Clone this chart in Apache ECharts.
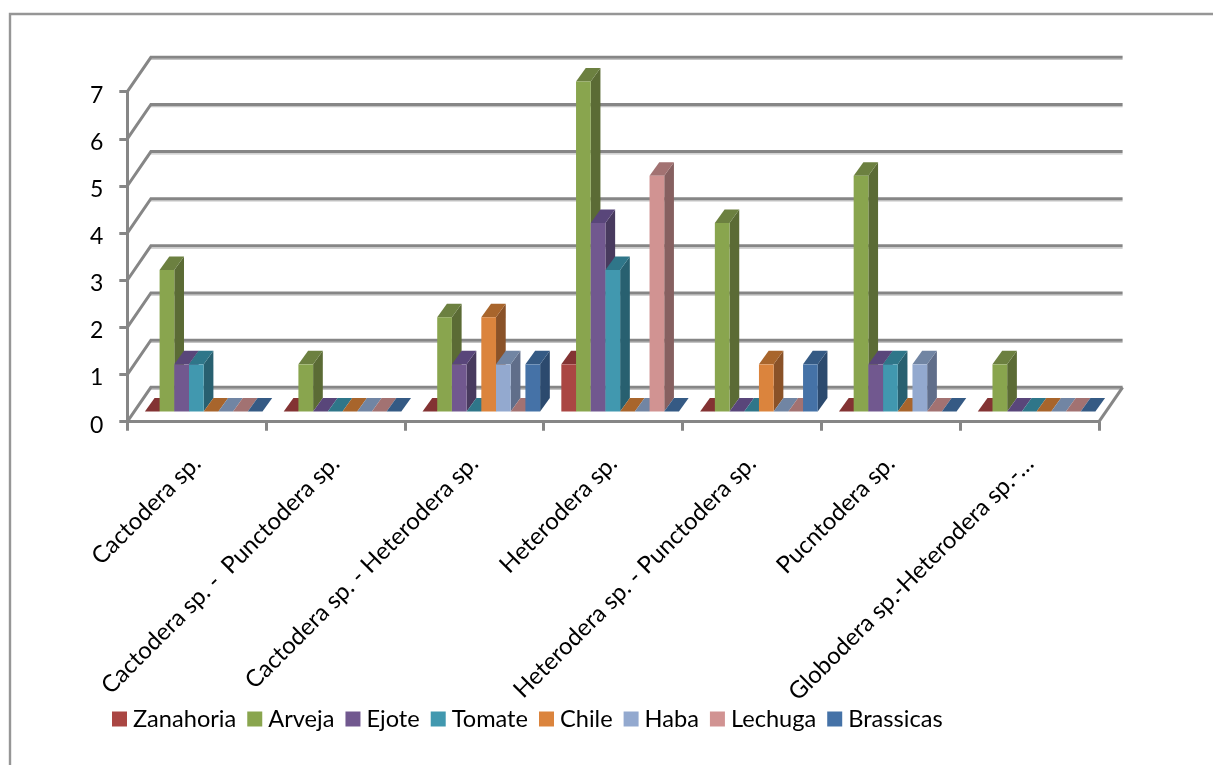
<!DOCTYPE html>
<html>
<head>
<meta charset="utf-8">
<style>html,body{margin:0;padding:0;background:#fff}#chart{width:1213px;height:765px}</style>
<script src="https://cdn.jsdelivr.net/npm/echarts@6/dist/echarts.min.js"></script>
</head>
<body>
<div id="chart"></div>
<script>
// Nematode genera found per crop
const categories = [
  'Cactodera sp.',
  'Cactodera sp. -  Punctodera sp.',
  'Cactodera sp. - Heterodera sp.',
  'Heterodera sp.',
  'Heterodera sp. - Punctodera sp.',
  'Pucntodera sp.',
  'Globodera sp.-Heterodera sp.-…'
];
const yTicks = [0, 1, 2, 3, 4, 5, 6, 7];
const seriesNames = ['Zanahoria', 'Arveja', 'Ejote', 'Tomate', 'Chile', 'Haba', 'Lechuga', 'Brassicas'];
const zanahoria = [0, 0, 0, 1, 0, 0, 0];
const arveja    = [3, 1, 2, 7, 4, 5, 1];
const ejote     = [1, 0, 1, 4, 0, 1, 0];
const tomate    = [1, 0, 0, 3, 0, 1, 0];
const chile     = [0, 0, 2, 0, 1, 0, 0];
const haba      = [0, 0, 1, 0, 0, 1, 0];
const lechuga   = [0, 0, 0, 5, 0, 0, 0];
const brassicas = [0, 0, 1, 0, 1, 0, 0];
const seriesValues = [zanahoria, arveja, ejote, tomate, chile, haba, lechuga, brassicas];

// Shades for the three visible faces of each column
const frontColors = ['#AA4643', '#89A54E', '#71588F', '#4198AF', '#DB843D', '#93A9CF', '#D19392', '#4572A7'];
const topColors   = ['#833333', '#6C8040', '#59467A', '#2F7689', '#A8652C', '#7185A3', '#A27272', '#355A84'];
const sideColors  = ['#6E2B2B', '#5B6B35', '#483A5E', '#286070', '#8A5228', '#606E8A', '#866060', '#2C4A6E'];

// Oblique projection of the box: wall depth, column depth, column inset from the front edge
const WALL_DX = 23.6, WALL_DY = 34.4;
const BAR_DX = 9.7, BAR_DY = 13.5;
const INSET_DX = 7, INSET_DY = 10.2;
const BAR_RATIO = 0.1059, GAP_RATIO = 0.0763;
const GRID_COLOR = '#868686';
const LINE_W = 3;

function line(points, color, width) {
  return { type: 'polyline', shape: { points }, style: { stroke: color, lineWidth: width, fill: 'none' } };
}

// Back wall gridlines, their slanted side-wall returns and the floor's right edge
function renderWall(params, api) {
  const cs = params.coordSys;
  const y = api.coord([0, api.value(1)])[1];
  const left = cs.x, right = cs.x + cs.width;
  const kids = [
    line([[left + WALL_DX, y - WALL_DY + 2.2], [right + WALL_DX, y - WALL_DY + 2.2]], '#c4c4c4', 1.2),
    line([[left, y], [left + WALL_DX, y - WALL_DY], [right + WALL_DX, y - WALL_DY]], GRID_COLOR, LINE_W)
  ];
  if (api.value(1) === 0) {
    kids.push(line([[right, y], [right + WALL_DX, y - WALL_DY]], GRID_COLOR, LINE_W));
  }
  return { type: 'group', children: kids };
}

// One 3D column: front, top and side faces derived from the axis scales
function makeColumn(index) {
  return function (params, api) {
    const base = api.coord([api.value(0), 0]);
    const top = api.coord([api.value(0), api.value(1)]);
    const band = api.size([1, 0])[0];
    const w = band * BAR_RATIO;
    const x0 = base[0] - band / 2 + INSET_DX + band * GAP_RATIO + index * w;
    const x1 = x0 + w;
    const yb = base[1] - INSET_DY;
    const yt = top[1] - INSET_DY;
    const face = (pts, color) => ({ type: 'polygon', shape: { points: pts }, style: { fill: color } });
    return {
      type: 'group',
      children: [
        face([[x1, yt], [x1 + BAR_DX, yt - BAR_DY], [x1 + BAR_DX, yb - BAR_DY], [x1, yb]], sideColors[index]),
        face([[x0, yt], [x0 + BAR_DX, yt - BAR_DY], [x1 + BAR_DX, yt - BAR_DY], [x1, yt]], topColors[index]),
        face([[x0, yt], [x1, yt], [x1, yb], [x0, yb]], frontColors[index])
      ]
    };
  };
}

const FONT = 'Lato, "Open Sans", sans-serif';
const chart = echarts.init(document.getElementById('chart'), null, { renderer: 'canvas' });

const columnSeries = seriesNames.map((name, i) => ({
  name,
  type: 'custom',
  z: 3 + i,
  silent: true,
  renderItem: makeColumn(i),
  encode: { x: 0, y: 1 },
  itemStyle: { color: frontColors[i] },
  data: seriesValues[i].map((v, c) => [c, v])
}));

chart.setOption({
  animation: false,
  backgroundColor: '#fff',
  grid: { left: 127.3, right: 114, top: 91.7, bottom: 343.3, containLabel: false },
  legend: {
    data: seriesNames,
    left: 107,
    top: 702,
    icon: 'rect',
    itemWidth: 15,
    itemHeight: 15,
    itemGap: 11,
    selectedMode: false,
    textStyle: { fontFamily: FONT, fontSize: 23.6, color: '#000', padding: [0, 0, 0, 1] }
  },
  xAxis: {
    type: 'category',
    data: categories,
    axisLine: { lineStyle: { color: GRID_COLOR, width: LINE_W } },
    axisTick: { show: true, length: 9, alignWithLabel: false, lineStyle: { color: GRID_COLOR, width: LINE_W } },
    axisLabel: { interval: 0, rotate: 45, margin: 38, fontFamily: FONT, fontSize: 23.8, color: '#000' },
    splitLine: { show: false }
  },
  yAxis: {
    type: 'value',
    min: 0,
    max: 7,
    interval: 1,
    axisLine: { show: true, lineStyle: { color: GRID_COLOR, width: LINE_W } },
    axisTick: { show: true, length: 8, lineStyle: { color: GRID_COLOR, width: LINE_W } },
    axisLabel: { margin: 24, fontFamily: FONT, fontSize: 23, color: '#000', verticalAlign: 'top', lineHeight: 7 },
    splitLine: { show: false }
  },
  graphic: [
    {
      type: 'polyline',
      silent: true,
      shape: { points: [[10, 765], [10, 14], [1213, 14]] },
      style: { stroke: '#969696', lineWidth: 2.4, fill: 'none' }
    }
  ],
  series: [
    {
      name: 'walls',
      type: 'custom',
      z: 1,
      silent: true,
      renderItem: renderWall,
      encode: { x: 0, y: 1 },
      data: yTicks.map(v => [0, v])
    }
  ].concat(columnSeries)
});
</script>
</body>
</html>
